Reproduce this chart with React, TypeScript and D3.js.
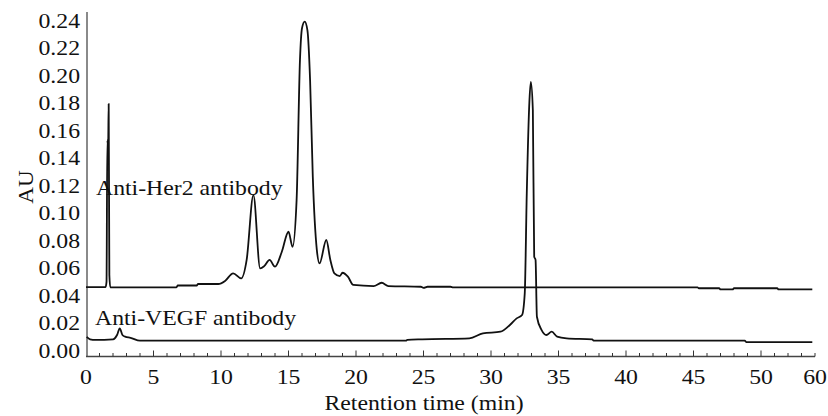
import * as d3 from 'd3';
import { useRef, useEffect } from 'react';

// retention time (min) / absorbance (AU)
const her2Time = [
  0, 1.45, 1.52, 1.58, 1.64, 1.68, 1.73, 1.8, 6.7, 6.8, 8.2, 8.3, 9.8, 10.3, 10.9,
  11.5, 11.9, 12.4, 12.9, 13.2, 13.6, 14.0, 14.5, 15.0, 15.3, 15.6, 15.85, 16.0,
  16.2, 16.4, 16.6, 16.8, 17.1, 17.3, 17.8, 18.1, 18.4, 18.8, 19.0, 19.4, 19.8,
  21.3, 21.9, 22.4, 24.8, 25.0, 25.3, 27.0, 27.2, 45.3, 45.4, 46.9, 47.0, 47.9,
  48.0, 51.2, 51.3, 53.8,
];
const her2Au = [
  0.0458, 0.0458, 0.0495, 0.1527, 0.148, 0.179, 0.0545, 0.0455, 0.0455, 0.0469,
  0.0469, 0.048, 0.048, 0.0502, 0.0558, 0.0521, 0.0655, 0.1127, 0.0594, 0.061,
  0.0655, 0.0606, 0.0713, 0.086, 0.0751, 0.109, 0.211, 0.234, 0.2388, 0.2327,
  0.196, 0.126, 0.0727, 0.063, 0.08, 0.0655, 0.0558, 0.0538, 0.0562, 0.0533,
  0.0473, 0.0465, 0.0489, 0.0465, 0.046, 0.0452, 0.046, 0.046, 0.0455, 0.0455,
  0.0449, 0.0449, 0.0441, 0.0441, 0.0449, 0.0449, 0.0441, 0.0441,
];

const vegfTime = [
  0.05, 0.3, 0.7, 2.0, 2.3, 2.5, 2.7, 2.9, 3.3, 4.0, 23.7, 23.8, 24.9, 28.4, 29.4,
  30.7, 31.4, 31.9, 32.3, 32.5, 32.65, 32.85, 32.95, 33.1, 33.2, 33.3, 33.4,
  33.75, 34.1, 34.5, 34.9, 35.6, 37.5, 37.6, 48.8, 48.9, 53.8,
];
const vegfAu = [
  0.0095, 0.0078, 0.0073, 0.0078, 0.0109, 0.0158, 0.0109, 0.0097, 0.0089, 0.0068,
  0.0068, 0.0073, 0.0078, 0.0085, 0.0121, 0.0133, 0.0182, 0.023, 0.0255, 0.0412,
  0.114, 0.182, 0.195, 0.1745, 0.0679, 0.0655, 0.0242, 0.0145, 0.0109, 0.0133,
  0.0097, 0.0085, 0.0078, 0.0068, 0.0068, 0.0058, 0.0058,
];

// the axis stops short of 60 but its last label reads "60"
const xTickValues = [0, 5, 10, 15, 20, 25, 30, 35, 40, 45, 50, 54];
const xTickLabels = ['0', '5', '10', '15', '20', '25', '30', '35', '40', '45', '50', '60'];
const yTickValues = [0, 0.02, 0.04, 0.06, 0.08, 0.1, 0.12, 0.14, 0.16, 0.18, 0.2, 0.22, 0.24];

const seriesNames = ['Anti-Her2 antibody', 'Anti-VEGF antibody'];

const FONT = '"Liberation Serif", "Times New Roman", serif';
const STRETCH = 1.08; // the figure's lettering is a little wider than plain Times

function Chromatogram() {
  const svgRef = useRef<SVGSVGElement>(null);
  const width = 828;
  const height = 416;

  useEffect(() => {
    const svg = d3.select(svgRef.current);
    svg.selectAll('*').remove();

    const xScale = d3.scaleLinear().domain([0, 54]).range([86, 815]);
    const yScale = d3.scaleLinear().domain([0, 0.24]).range([350, 20]);
    const axisY = 356.5;

    const label = (x: number, y: number, txt: string, anchor = 'start') =>
      svg
        .append('text')
        .attr('transform', `translate(${x},${y}) scale(${STRETCH},1)`)
        .attr('text-anchor', anchor)
        .attr('font-family', FONT)
        .attr('font-size', 22)
        .attr('fill', '#111')
        .text(txt);

    // y axis line, no ticks
    svg
      .append('line')
      .attr('x1', 87)
      .attr('x2', 87)
      .attr('y1', 12)
      .attr('y2', axisY)
      .attr('stroke', '#8a8a8a')
      .attr('stroke-width', 2);

    yTickValues.forEach((d) => label(80, yScale(d) + 7.5, d3.format('.2f')(d), 'end'));

    // x axis line with upward minor ticks every minute
    svg
      .append('line')
      .attr('x1', 86)
      .attr('x2', xScale(54))
      .attr('y1', axisY)
      .attr('y2', axisY)
      .attr('stroke', '#444')
      .attr('stroke-width', 1.5);

    svg
      .append('g')
      .selectAll('line')
      .data(d3.range(1, 55))
      .join('line')
      .attr('x1', (d) => xScale(d))
      .attr('x2', (d) => xScale(d))
      .attr('y1', axisY)
      .attr('y2', (d) => (d % 5 === 0 ? axisY - 6 : axisY - 3.5))
      .attr('stroke', '#333')
      .attr('stroke-width', 1);

    xTickValues.forEach((d, i) => label(xScale(d), 384, xTickLabels[i], 'middle'));

    // traces
    const line = d3
      .line<[number, number]>()
      .curve(d3.curveMonotoneX)
      .x((d) => xScale(d[0]))
      .y((d) => yScale(d[1]));

    const her2 = her2Time.map((t, i) => [t, her2Au[i]] as [number, number]);
    const vegf = vegfTime.map((t, i) => [t, vegfAu[i]] as [number, number]);

    [her2, vegf].forEach((s) => {
      svg
        .append('path')
        .datum(s)
        .attr('d', line)
        .attr('fill', 'none')
        .attr('stroke', '#111')
        .attr('stroke-width', 1.8)
        .attr('stroke-linejoin', 'round');
    });

    // series labels
    label(96, 195, seriesNames[0]);
    label(95, 325, seriesNames[1]);

    // axis titles
    svg
      .append('text')
      .attr('transform', 'translate(33, 187) rotate(-90) scale(1.05,1)')
      .attr('text-anchor', 'middle')
      .attr('font-family', FONT)
      .attr('font-size', 22)
      .attr('fill', '#111')
      .text('AU');
    label(424, 410, 'Retention time (min)', 'middle');
  }, []);

  return (
    <svg
      ref={svgRef}
      width={width}
      height={height}
      style={{ position: 'fixed', left: 0, top: 0, background: '#fff' }}
    />
  );
}

export default function App() {
  return <Chromatogram />;
}
